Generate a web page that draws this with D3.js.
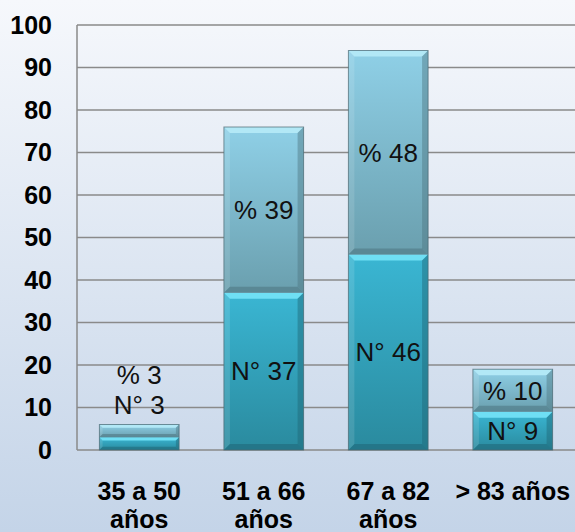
<!DOCTYPE html>
<html>
<head>
<meta charset="utf-8">
<script src="https://cdn.jsdelivr.net/npm/d3@7"></script>
<style>
  html, body { margin: 0; padding: 0; }
  body { width: 575px; height: 532px; overflow: hidden; }
  svg { display: block; font-family: "Liberation Sans", Arial, sans-serif; }
</style>
</head>
<body>
<svg id="chart" width="575" height="532"></svg>
<script>
// Age groups and their two stacked values
const categories = ["35 a 50 años", "51 a 66 años", "67 a 82 años", "> 83 años"];
const nValues = [3, 37, 46, 9];      // N° (lower segment)
const pctValues = [3, 39, 48, 10];   // % (upper segment)
const yTicks = [0, 10, 20, 30, 40, 50, 60, 70, 80, 90, 100];

const W = 575, H = 532;
const margin = { top: 25, right: 0, bottom: 82, left: 77 };
const svg = d3.select("#chart");
const defs = svg.append("defs");

// page background
const bg = defs.append("linearGradient").attr("id", "bg").attr("x1", 0).attr("y1", 0).attr("x2", 0).attr("y2", 1);
bg.append("stop").attr("offset", "0%").attr("stop-color", "#f6f8fc");
bg.append("stop").attr("offset", "100%").attr("stop-color", "#c4d4e8");
svg.append("rect").attr("width", W).attr("height", H).attr("fill", "url(#bg)");

// segment gradients
function vGrad(id, c1, c2) {
  const g = defs.append("linearGradient").attr("id", id).attr("x1", 0).attr("y1", 0).attr("x2", 0).attr("y2", 1);
  g.append("stop").attr("offset", "0%").attr("stop-color", c1);
  g.append("stop").attr("offset", "100%").attr("stop-color", c2);
}
vGrad("gPct", "#8fd0e7", "#6a9fae");
vGrad("gN", "#3ab6d3", "#2a8a9e");

const x = d3.scaleBand().domain(categories)
  .range([margin.left, W - margin.right]).paddingInner(0.36).paddingOuter(0.18);
const y = d3.scaleLinear().domain([0, 100]).range([H - margin.bottom, margin.top]);

// gridlines
const grid = svg.append("g");
grid.selectAll("line").data(yTicks).join("line")
  .attr("x1", margin.left).attr("x2", W - margin.right)
  .attr("y1", d => y(d)).attr("y2", d => y(d))
  .attr("stroke", "#8a8a8a").attr("stroke-width", 1.5);
grid.append("line")
  .attr("x1", margin.left).attr("x2", margin.left)
  .attr("y1", y(100)).attr("y2", y(0))
  .attr("stroke", "#8a8a8a").attr("stroke-width", 1.5);

// y axis labels
const yAxis = svg.append("g").attr("transform", `translate(${margin.left},0)`)
  .call(d3.axisLeft(y).tickValues(yTicks).tickSize(0).tickPadding(25));
yAxis.select(".domain").remove();
yAxis.selectAll("text")
  .attr("font-family", "Liberation Sans, Arial, sans-serif")
  .attr("font-size", 25).attr("font-weight", "bold").attr("fill", "#000");

// x axis labels, wrapped to band width
const xAxis = svg.append("g").attr("transform", `translate(0,${y(0)})`)
  .call(d3.axisBottom(x).tickSize(0).tickPadding(32));
xAxis.select(".domain").remove();
xAxis.selectAll("text")
  .attr("font-family", "Liberation Sans, Arial, sans-serif")
  .attr("font-size", 25).attr("font-weight", "bold").attr("fill", "#000")
  .each(function (d) {
    const t = d3.select(this);
    if (this.getComputedTextLength() > x.step()) {
      const words = d.split(" ");
      const last = words.pop();
      t.text(null);
      t.append("tspan").attr("x", 0).attr("dy", "0.71em").text(words.join(" "));
      t.append("tspan").attr("x", 0).attr("dy", "1.14em").text(last);
    }
  });

// bevelled bar segment
function segment(g, x0, y0, w, h, fill, hi, lo) {
  const b = Math.min(6, h / 4);
  g.append("rect").attr("x", x0).attr("y", y0).attr("width", w).attr("height", h).attr("fill", fill);
  // top bevel
  g.append("polygon").attr("points", [[x0, y0], [x0 + w, y0], [x0 + w - b, y0 + b], [x0 + b, y0 + b]].join(" "))
    .attr("fill", hi);
  // left bevel
  g.append("polygon").attr("points", [[x0, y0], [x0 + b, y0 + b], [x0 + b, y0 + h - b], [x0, y0 + h]].join(" "))
    .attr("fill", "#ffffff").attr("opacity", 0.12);
  // right bevel
  g.append("polygon").attr("points", [[x0 + w, y0], [x0 + w, y0 + h], [x0 + w - b, y0 + h - b], [x0 + w - b, y0 + b]].join(" "))
    .attr("fill", lo).attr("opacity", 0.45);
  // bottom bevel
  g.append("polygon").attr("points", [[x0, y0 + h], [x0 + w, y0 + h], [x0 + w - b, y0 + h - b], [x0 + b, y0 + h - b]].join(" "))
    .attr("fill", lo).attr("opacity", 0.55);
}

const rows = categories.map((c, i) => ({ c, n: nValues[i], p: pctValues[i] }));
const bars = svg.append("g");
rows.forEach(r => {
  const g = bars.append("g");
  const x0 = x(r.c), w = x.bandwidth();
  const yN = y(r.n), yT = y(r.n + r.p);
  segment(g, x0, yN, w, y(0) - yN, "url(#gN)", "#6fdff4", "#1f6676");
  segment(g, x0, yT, w, yN - yT, "url(#gPct)", "#b2e8f6", "#4d7580");
  g.append("rect").attr("x", x0).attr("y", yT).attr("width", w).attr("height", y(0) - yT)
    .attr("fill", "none").attr("stroke", "#4a6770").attr("stroke-opacity", 0.7).attr("stroke-width", 1);
});

// value labels
const labels = svg.append("g")
  .attr("font-family", "Liberation Sans, Arial, sans-serif")
  .attr("font-size", 26).attr("fill", "#111").attr("text-anchor", "middle");
rows.forEach(r => {
  const cx = x(r.c) + x.bandwidth() / 2;
  const hN = y(0) - y(r.n), hP = y(r.n) - y(r.n + r.p);
  if (hN < 28 || hP < 28) {
    // segments too thin: stack both labels above the bar
    const top = y(r.n + r.p);
    labels.append("text").attr("x", cx).attr("y", top - 20).attr("dy", "0.35em").text(`N° ${r.n}`);
    labels.append("text").attr("x", cx).attr("y", top - 50).attr("dy", "0.35em").text(`% ${r.p}`);
  } else {
    labels.append("text").attr("x", cx).attr("y", (y(0) + y(r.n)) / 2).attr("dy", "0.35em").text(`N° ${r.n}`);
    labels.append("text").attr("x", cx).attr("y", (y(r.n) + y(r.n + r.p)) / 2).attr("dy", "0.35em").text(`% ${r.p}`);
  }
});
</script>
</body>
</html>
